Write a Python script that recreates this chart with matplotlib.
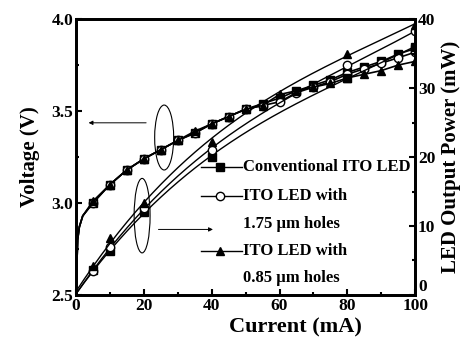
import numpy as np
import matplotlib
matplotlib.use("Agg")
import matplotlib.pyplot as plt
from matplotlib.patches import Ellipse
from matplotlib.lines import Line2D

plt.rcParams["font.family"] = ["Liberation Serif", "DejaVu Serif"]
plt.rcParams["font.weight"] = "bold"

# ---------------------------------------------------------------------------
# Data
# ---------------------------------------------------------------------------
v_current = [0, 0.5, 1, 2, 5, 10, 15, 20, 25, 30, 35, 40, 45, 50,
             55, 60, 65, 70, 75, 80, 85, 90, 95, 100]
v_conv = [2.5, 2.80, 2.87, 2.93, 3.00, 3.10, 3.18, 3.24, 3.29, 3.34, 3.38, 3.43,
          3.47, 3.51, 3.54, 3.57, 3.61, 3.64, 3.67, 3.71, 3.74, 3.77, 3.81, 3.84]
v_175 = [2.5, 2.80, 2.87, 2.93, 3.00, 3.10, 3.18, 3.24, 3.29, 3.34, 3.38, 3.43,
         3.47, 3.51, 3.53, 3.55, 3.60, 3.63, 3.66, 3.70, 3.73, 3.76, 3.79, 3.82]
v_085 = [2.5, 2.80, 2.87, 2.93, 3.01, 3.10, 3.18, 3.24, 3.29, 3.34, 3.39, 3.43,
         3.47, 3.51, 3.53, 3.59, 3.61, 3.63, 3.65, 3.68, 3.70, 3.72, 3.75, 3.77]

p_current = [0, 5, 10, 20, 40, 80, 100]
p_conv = [0, 3.6, 6.4, 12.0, 20.0, 31.5, 36.0]
p_175 = [0, 3.5, 7.0, 12.6, 21.0, 33.3, 38.2]
p_085 = [0, 4.2, 8.2, 13.4, 22.2, 35.0, 39.2]

labels = ["Conventional ITO LED", "ITO LED with", "1.75 \u03bcm holes",
          "ITO LED with", "0.85 \u03bcm holes"]

styles = [
    dict(marker="s", mfc="black", mec="black"),
    dict(marker="o", mfc="white", mec="black"),
    dict(marker="^", mfc="black", mec="black"),
]
MS = 6

fig = plt.figure(figsize=(4.66, 3.47), dpi=100)
ax = fig.add_axes([0.163, 0.150, 0.728, 0.795])
ax2 = ax.twinx()

# voltage curves (left axis)
for v, st in zip([v_conv, v_175, v_085], styles):
    ax.plot(v_current, v, color="black", lw=1.2, ms=MS,
            markevery=list(range(4, len(v_current))), **st)

# output power (right axis): markers plus smooth fit
xs = np.linspace(0, 100, 200)
for p, st in zip([p_conv, p_175, p_085], styles):
    coef = np.polyfit(p_current, p, 3)
    ax2.plot(xs, np.polyval(coef, xs), color="black", lw=1.0)
    ax2.plot(p_current[1:], p[1:], ls="none", ms=MS, **st)

ax.set_xlim(0, 100)
ax.set_ylim(2.5, 4.0)
ax2.set_ylim(0, 40)

ax.set_xticks([0, 20, 40, 60, 80, 100])
ax.set_xticks(range(10, 100, 20), minor=True)
ax.set_yticks([2.5, 3.0, 3.5, 4.0])
ax.set_yticks([2.75, 3.25, 3.75], minor=True)
ax2.set_yticks([0, 10, 20, 30, 40])
ax2.set_yticks([5, 15, 25, 35], minor=True)
ax.set_yticklabels(["2.5", "3.0", "3.5", "4.0"])

for a in (ax, ax2):
    a.tick_params(which="both", direction="in", width=1.5, labelsize=12.5)
    a.tick_params(which="major", length=4)
    a.tick_params(which="minor", length=2.5)
    for s in a.spines.values():
        s.set_linewidth(2)
ax.tick_params(axis="x", pad=2)
ax.tick_params(axis="y", pad=2)
ax2.tick_params(axis="y", pad=2)
# lift the right-hand "0" so it clears the "100" below it
ax2.get_yticklabels()[0].set_verticalalignment("bottom")

ax.set_xlabel("Current (mA)", fontsize=16, fontweight="bold")
ax.xaxis.set_label_coords(0.646, -0.118)
ax.xaxis.label.set_verticalalignment("center")
ax.set_ylabel("Voltage (V)", fontsize=15, fontweight="bold", labelpad=8)
ax2.set_ylabel("LED Output Power (mW)", fontsize=15, fontweight="bold", labelpad=4)

# ellipses and arrows
ax.add_patch(Ellipse((26, 3.356), 5.6, 0.353, fill=False, lw=0.8, color="black"))
ax.annotate("", xy=(2.9, 3.436), xytext=(21.5, 3.436),
            arrowprops=dict(arrowstyle="-|>", lw=0.7, color="black",
                            mutation_scale=6))
ax2.add_patch(Ellipse((19.5, 11.5), 4.7, 10.8, fill=False, lw=0.8, color="black"))
ax2.annotate("", xy=(41.2, 9.5), xytext=(23.5, 9.5),
             arrowprops=dict(arrowstyle="-|>", lw=0.7, color="black",
                             mutation_scale=6))

# hand-drawn legend
leg_y = [18.5, 14.3, 10.3, 6.4, 2.4]
handle_st = [styles[0], styles[1], None, styles[2], None]
for y, lab, st in zip(leg_y, labels, handle_st):
    if st is not None:
        ax2.add_line(Line2D([36.8, 49], [y, y], color="black", lw=1.0))
        ax2.plot([42.5], [y], ls="none", ms=MS, **st)
    ax2.text(49.3, y, lab, fontsize=12, fontweight="bold", va="center", ha="left")

fig.savefig("out.png", dpi=100)
